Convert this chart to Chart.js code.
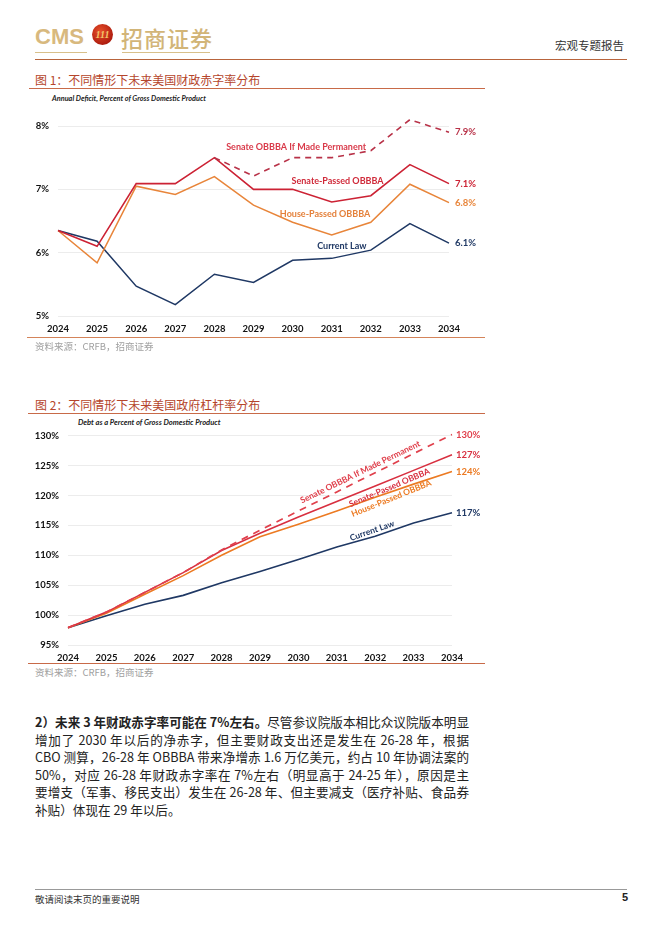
<!DOCTYPE html>
<html><head><meta charset="utf-8">
<script src="https://cdn.jsdelivr.net/npm/chart.js@4.4.1/dist/chart.umd.min.js"></script>
<style>
html,body{margin:0;padding:0;background:#fff;}
body{width:662px;height:936px;position:relative;overflow:hidden;font-family:"Noto Sans CJK SC","Noto Sans",sans-serif;}
.abs{position:absolute;}
.cms{left:35px;top:24px;font-family:"Liberation Sans",Arial,sans-serif;font-weight:bold;font-size:22px;color:#d8b97e;letter-spacing:0px;}
.circ{left:92px;top:24px;width:21px;height:21px;border-radius:50%;background:radial-gradient(circle at 40% 35%,#e8502a,#b01e10 70%,#8a1508);color:#f3c66a;font:italic bold 10px "Liberation Serif",serif;text-align:center;line-height:21px;}
.zs{left:121px;top:21px;font-size:22px;color:#d2b578;font-family:"Noto Sans CJK SC";font-weight:500;letter-spacing:1px;}
.ul{height:1px;background:#d8c08a;}
.hr{height:1px;}
.figt{font-size:12px;color:#b5452b;left:35px;}
.src{font-size:9.5px;color:#a0a0a0;left:35px;}
.para div{font-size:12.6px;color:#222;width:434px;text-align:justify;text-align-last:justify;height:17.6px;line-height:17.6px;white-space:nowrap;}
.para div.last{text-align-last:left;}
</style></head>
<body>
<div class="abs cms">CMS</div>
<div class="abs circ">111</div>
<div class="abs zs">招商证券</div>
<div class="abs ul" style="left:35px;top:52px;width:52px;"></div>
<div class="abs ul" style="left:122px;top:52px;width:88px;"></div>
<div class="abs" style="left:555px;top:37px;font-size:11.5px;color:#333;">宏观专题报告</div>
<div class="abs hr" style="left:35px;top:59px;width:592px;background:#b8643c;"></div>

<div class="abs figt" style="top:71px;">图 1：不同情形下未来美国财政赤字率分布</div>
<div class="abs hr" style="left:29px;top:88px;width:456px;background:#c86a48;"></div>
<div class="abs" style="left:52px;top:94px;font:italic bold 7.3px Lato,sans-serif;color:#222;">Annual Deficit, Percent of Gross Domestic Product</div>
<div class="abs" style="left:20px;top:92px;width:470px;height:246px;"><canvas id="c1"></canvas></div>
<div class="abs hr" style="left:27px;top:337px;width:458px;background:#d4845a;"></div>
<div class="abs src" style="top:339px;">资料来源：CRFB，招商证券</div>

<div class="abs figt" style="top:396px;">图 2：不同情形下未来美国政府杠杆率分布</div>
<div class="abs hr" style="left:28px;top:413px;width:457px;background:#c86a48;"></div>
<div class="abs" style="left:78px;top:417px;font:italic bold 7.6px Lato,sans-serif;color:#222;">Debt as a Percent of Gross Domestic Product</div>
<div class="abs" style="left:20px;top:415px;width:470px;height:248px;"><canvas id="c2"></canvas></div>
<div class="abs hr" style="left:28px;top:663px;width:457px;background:#c86a48;"></div>
<div class="abs src" style="top:665px;">资料来源：CRFB，招商证券</div>

<div class="abs para" style="left:35px;top:713px;">
<div><b>2）未来 3 年财政赤字率可能在 7%左右。</b>尽管参议院版本相比众议院版本明显</div>
<div>增加了 2030 年以后的净赤字，但主要财政支出还是发生在 26-28 年，根据</div>
<div>CBO 测算，26-28 年 OBBBA 带来净增赤 1.6 万亿美元，约占 10 年协调法案的</div>
<div>50%，对应 26-28 年财政赤字率在 7%左右（明显高于 24-25 年），原因是主</div>
<div>要增支（军事、移民支出）发生在 26-28 年、但主要减支（医疗补贴、食品券</div>
<div class="last">补贴）体现在 29 年以后。</div>
</div>

<div class="abs hr" style="left:35px;top:889px;width:592px;background:#999;"></div>
<div class="abs" style="left:35px;top:892px;font-size:9.5px;color:#333;">敬请阅读末页的重要说明</div>
<div class="abs" style="left:622px;top:891px;font:bold 11px 'Liberation Sans',sans-serif;color:#222;">5</div>

<script>
// ---- Data ----
const years = ["2024","2025","2026","2027","2028","2029","2030","2031","2032","2033","2034"];

// Chart 1: Annual deficit, % of GDP
const defCurrentLaw   = [6.35, 6.18, 5.47, 5.18, 5.66, 5.53, 5.88, 5.91, 6.04, 6.46, 6.15];
const defHousePassed  = [6.35, 5.84, 7.05, 6.92, 7.20, 6.75, 6.48, 6.28, 6.48, 7.08, 6.79];
const defSenatePassed = [6.35, 6.10, 7.09, 7.09, 7.50, 7.00, 7.00, 6.80, 6.90, 7.39, 7.09];
const defSenatePerm   = [null, null, null, null, 7.50, 7.21, 7.50, 7.50, 7.61, 8.10, 7.90];
const defEndLabels = ["7.9%", "7.1%", "6.8%", "6.1%"];
const defTicks = [5, 6, 7, 8];

// Chart 2: Debt, % of GDP
const debtCurrentLaw   = [97.9, 99.9, 101.8, 103.3, 105.4, 107.3, 109.3, 111.4, 113.2, 115.4, 117.1];
const debtHousePassed  = [97.9, 100.3, 103.5, 106.6, 110.0, 113.1, 115.2, 117.4, 119.7, 121.9, 124.0];
const debtSenatePassed = [97.9, 100.5, 103.8, 107.1, 110.8, 113.7, 116.4, 119.0, 121.6, 124.2, 126.8];
const debtSenatePerm   = [97.9, 100.5, 103.8, 107.1, 110.9, 114.2, 117.4, 120.6, 123.8, 127.0, 130.2];
const debtEndLabels = ["130%", "127%", "124%", "117%"];
const debtTicks = [95, 100, 105, 110, 115, 120, 125, 130];

// ---- Styles ----
const C = {
  navy: "#1f3864", orange: "#e8853a", red: "#cc2234", dashRed: "#b83248",
  orange2: "#ec7a22", red2: "#d83040", dashRed2: "#e0404c"
};

const labelPlugin = {
  id: "lineLabels",
  afterDatasetsDraw(chart, args, opts) {
    const ctx = chart.ctx, xs = chart.scales.x, ys = chart.scales.y;
    ctx.save();
    (opts.ends || []).forEach(e => {
      const ds = chart.data.datasets[e.ds];
      const i = ds.data.length - 1;
      const px = xs.getPixelForValue(i) + e.dx;
      const py = ys.getPixelForValue(ds.data[i]);
      ctx.font = opts.font; ctx.fillStyle = ds.borderColor;
      ctx.textAlign = "left"; ctx.textBaseline = "middle";
      ctx.fillText(e.text, px, py);
    });
    (opts.inline || []).forEach(l => {
      const px = xs.getPixelForValue(l.x), py = ys.getPixelForValue(l.y);
      ctx.save();
      ctx.translate(px, py);
      ctx.rotate((l.rot || 0) * Math.PI / 180);
      ctx.font = l.font || opts.font; ctx.fillStyle = l.color;
      ctx.textAlign = "center"; ctx.textBaseline = "middle";
      ctx.fillText(l.text, 0, 0);
      ctx.restore();
    });
    ctx.restore();
  }
};

function ds(data, color, dash, width) {
  return { data, borderColor: color, backgroundColor: color, borderWidth: width || 1.6,
    borderDash: dash || [], pointRadius: 0, tension: 0, spanGaps: false, fill: false };
}

function makeOptions(cfg) {
  return {
    responsive: true, maintainAspectRatio: false, animation: false,
    layout: { padding: cfg.padding },
    plugins: { legend: { display: false }, tooltip: { enabled: false },
      lineLabels: cfg.labels },
    scales: {
      x: { type: "category", offset: false,
        grid: { display: false, drawTicks: false }, border: { display: false },
        ticks: { font: { family: "Lato", weight: "bold", size: 9.5 }, color: "#111", padding: cfg.xpad, maxRotation: 0, autoSkip: false },
        afterFit: s => { s.height = cfg.xh; } },
      y: { min: cfg.min, max: cfg.max,
        grid: { color: "#ececec", lineWidth: 1, drawTicks: false }, border: { display: false },
        afterBuildTicks: s => { s.ticks = cfg.ticks.map(v => ({ value: v })); },
        ticks: { font: { family: "Lato", weight: "bold", size: 9.5 }, color: "#111", padding: cfg.ypad,
          callback: v => v + "%" },
        afterFit: s => { s.width = cfg.yw; } }
    }
  };
}

new Chart(document.getElementById("c1"), {
  type: "line",
  data: { labels: years, datasets: [
    ds(defSenatePerm, C.dashRed, [6, 5], 1.6),
    ds(defSenatePassed, C.red, [], 1.6),
    ds(defHousePassed, C.orange, [], 1.5),
    ds(defCurrentLaw, C.navy, [], 1.5)
  ]},
  options: makeOptions({
    padding: { left: 0, right: 41, top: 15, bottom: 0 },
    min: 5, max: 8.3, ticks: defTicks, yw: 38, xh: 22, xpad: 7, ypad: 9,
    labels: {
      font: "bold 9.5px Lato",
      ends: [ { ds: 0, text: defEndLabels[0], dx: 6 }, { ds: 1, text: defEndLabels[1], dx: 6 },
              { ds: 2, text: defEndLabels[2], dx: 6 }, { ds: 3, text: defEndLabels[3], dx: 6 } ],
      inline: [
        { text: "Senate OBBBA If Made Permanent", x: 6.09, y: 7.67, color: "#d93a4a", font: "bold 9px Lato" },
        { text: "Senate-Passed OBBBA", x: 7.15, y: 7.13, color: "#d02a3a", font: "bold 9px Lato" },
        { text: "House-Passed OBBBA", x: 6.83, y: 6.61, color: "#e4803a", font: "bold 9px Lato" },
        { text: "Current Law", x: 7.26, y: 6.10, color: C.navy, font: "bold 9px Lato" }
      ]
    }
  }),
  plugins: [labelPlugin]
});

new Chart(document.getElementById("c2"), {
  type: "line",
  data: { labels: years, datasets: [
    ds(debtSenatePerm, C.dashRed2, [7, 6], 1.7),
    ds(debtSenatePassed, C.red2, [], 1.6),
    ds(debtHousePassed, C.orange2, [], 1.6),
    ds(debtCurrentLaw, C.navy, [], 1.6)
  ]},
  options: makeOptions({
    padding: { left: 0, right: 38, top: 8, bottom: 0 },
    min: 95, max: 131, ticks: debtTicks, yw: 48, xh: 18, xpad: 7, ypad: 9,
    labels: {
      font: "bold 9.5px Lato",
      ends: [ { ds: 0, text: debtEndLabels[0], dx: 4 }, { ds: 1, text: debtEndLabels[1], dx: 4 },
              { ds: 2, text: debtEndLabels[2], dx: 4 }, { ds: 3, text: debtEndLabels[3], dx: 4 } ],
      inline: [
        { text: "Senate OBBBA If Made Permanent", x: 7.61, y: 123.9, rot: -26, color: "#e0404c", font: "bold 8.5px Lato" },
        { text: "Senate-Passed OBBBA", x: 8.37, y: 121.3, rot: -23, color: "#d83040", font: "bold 8.5px Lato" },
        { text: "House-Passed OBBBA", x: 8.42, y: 119.5, rot: -22, color: "#ec7a22", font: "bold 8.5px Lato" },
        { text: "Current Law", x: 7.92, y: 114.1, rot: -19, color: C.navy, font: "bold 8.5px Lato" }
      ]
    }
  }),
  plugins: [labelPlugin]
});
</script>
</body></html>
